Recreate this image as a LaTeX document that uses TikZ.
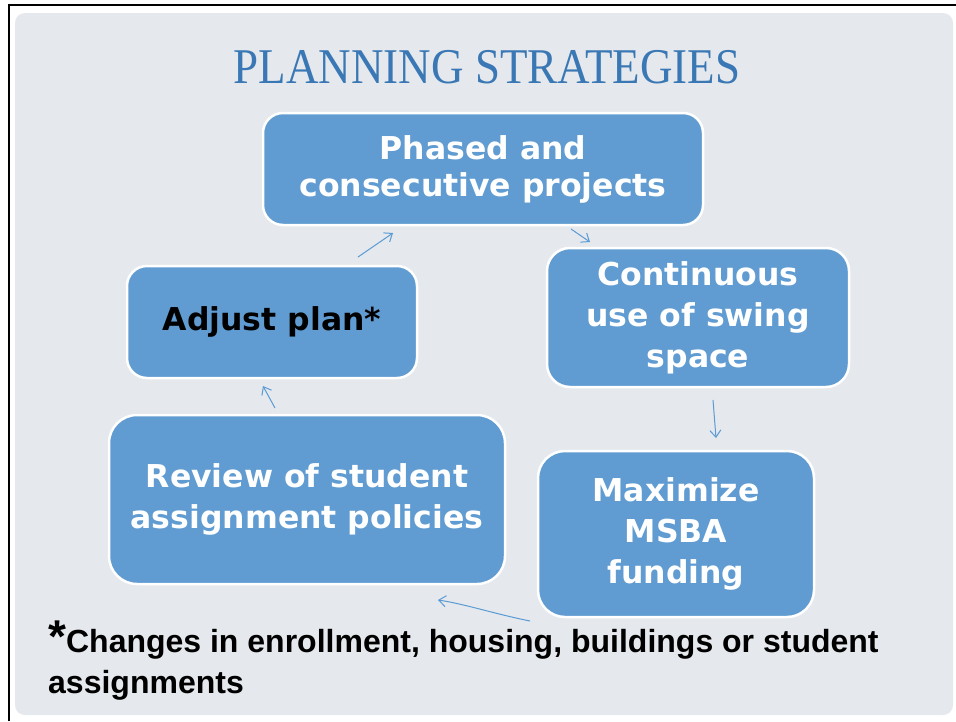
\documentclass[tikz,border=0pt]{standalone}
\usepackage{fontspec}
\setmainfont{Liberation Serif}
\newfontfamily\boxfont{DejaVu Sans}
\newfontfamily\notefont{Liberation Sans}
\usetikzlibrary{arrows.meta}
\definecolor{boxblue}{RGB}{96,156,209}
\definecolor{titleblue}{RGB}{58,120,181}
\definecolor{panelgray}{RGB}{229,232,236}
\definecolor{arrowblue}{RGB}{91,155,213}
\begin{document}
\begin{tikzpicture}[x=1pt,y=-1pt,
  card/.style={draw=white, line width=2.5pt, fill=boxblue, text=white, align=center,
    inner sep=0pt, font=\boxfont\bfseries\fontsize{31.5}{41}\selectfont},
  link/.style={draw=arrowblue, line width=1pt, -{Straight Barb[length=7pt,width=11pt]}},
  note/.style={anchor=base west, inner sep=0pt, font=\notefont\bfseries\fontsize{32}{40}\selectfont}]
\useasboundingbox (0,0) rectangle (956,721);
\fill[white] (0,0) rectangle (956,721);
\fill[panelgray, rounded corners=10pt] (15,13) rectangle (953,715);
\draw[black, line width=2pt] (9,721) -- (9,5) -- (956,5);

\node[text=titleblue, font=\fontsize{50}{50}\selectfont, anchor=base, inner sep=0pt] (title) at (487,83)
  {\scalebox{0.9}[1]{PLANNING STRATEGIES}};

\node[card, minimum width=440pt, minimum height=112pt, rounded corners=20pt,
  font=\boxfont\bfseries\fontsize{31.5}{37}\selectfont] (phased) at (483,169)
  {Phased and\\consecutive projects};
\node[card, minimum width=302pt, minimum height=139pt, rounded corners=23pt] (swing) at (698,317.5)
  {Continuous\\use of swing\\space};
\node[card, minimum width=276pt, minimum height=166pt, rounded corners=27pt] (msba) at (676,534)
  {Maximize\\MSBA\\funding};
\node[card, minimum width=396pt, minimum height=169pt, rounded corners=28pt] (review) at (307,499.5)
  {Review of student\\assignment policies};
\node[card, text=black, minimum width=290pt, minimum height=112pt, rounded corners=20pt] (adjust) at (272,322)
  {Adjust plan*};

\coordinate (a1s) at (358,257); \coordinate (a1e) at (393,233);
\coordinate (a2s) at (571,229); \coordinate (a2e) at (590,242);
\coordinate (a3s) at (713,400); \coordinate (a3e) at (716,438);
\coordinate (a4s) at (530,621); \coordinate (a4e) at (438,600);
\coordinate (a5s) at (275,408); \coordinate (a5e) at (263,386);

\draw[link] (a1s) -- (a1e);
\draw[link] (a2s) -- (a2e);
\draw[link] (a3s) -- (a3e);
\draw[link] (a4s) .. controls (495,614) and (465,604) .. (a4e);
\draw[link] (a5s) -- (a5e);

\node[note] (note1) at (48,652) {{\fontsize{46}{46}\selectfont *}Changes in enrollment, housing, buildings or student};
\node[note] (note2) at (48,693) {assignments};
\end{tikzpicture}
\end{document}
